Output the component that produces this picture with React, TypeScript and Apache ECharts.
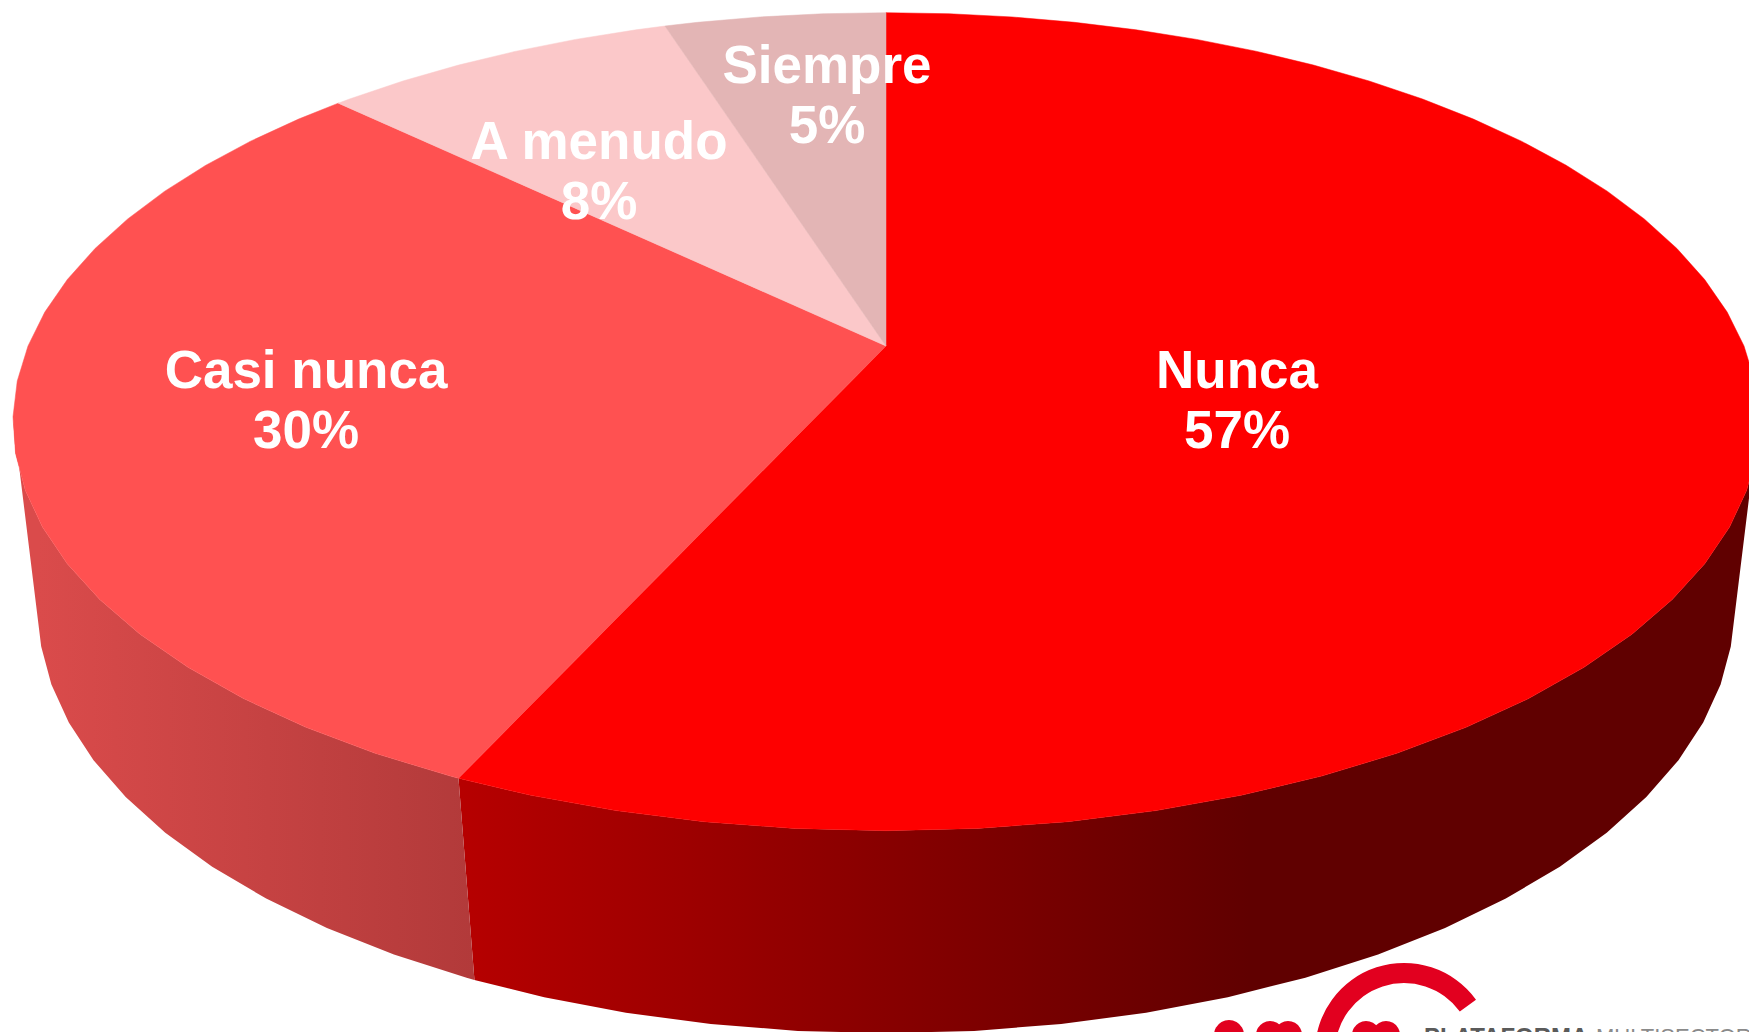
import React, { useEffect, useRef } from "react";
import * as echarts from "echarts";

// ---- data ----
const categories = ["Nunca", "Casi nunca", "A menudo", "Siempre"];
const shares = [56.8, 30.4, 7.9, 4.9];
const percentLabels = ["57%", "30%", "8%", "5%"];

// ---- colours ----
const topColors = ["#fe0000", "#ff5151", "#fbc8c9", "#e3b5b5"];
const sideStops = [
  { x0: 461, x1: 1250, c0: "#b60000", c1: "#600000" },
  { x0: 39, x1: 474, c0: "#da4b4b", c1: "#b23a3a" },
  { x0: 0, x1: 1749, c0: "#c9a0a0", c1: "#c9a0a0" },
  { x0: 0, x1: 1749, c0: "#b89090", c1: "#b89090" },
];

// ---- layout ----
const W = 1749;
const H = 1032;
const APEX = [886, 346];
const TOP_PLANE = { cy: 346, A: 858, B: 395, k: 0.185 };
const BOTTOM_PLANE = { cy: 535, A: 835, B: 411, k: 0.175 };
const FACET = 5;
const TOP_SILHOUETTE = [100, 260];
const BOTTOM_SILHOUETTE = [105, 255];
const LABEL_POS = [
  [1237, 399],
  [306, 399],
  [599, 170],
  [827, 94],
];

function project(p: { cy: number; A: number; B: number; k: number }, deg: number) {
  const t = (deg * Math.PI) / 180;
  const u = Math.sin(t);
  const v = -Math.cos(t);
  const w = 1 - p.k * v;
  return [APEX[0] + (p.A * u) / w, p.cy + (p.B * v) / w];
}

function arcAngles(a0: number, a1: number) {
  const out = [a0];
  let a = (Math.floor(a0 / FACET) + 1) * FACET;
  while (a < a1 - 1e-6) {
    out.push(a);
    a += FACET;
  }
  out.push(a1);
  return out;
}

function sliceRange(i: number) {
  const total = shares.reduce((s, x) => s + x, 0);
  const before = shares.slice(0, i).reduce((s, x) => s + x, 0);
  return [(before / total) * 360, ((before + shares[i]) / total) * 360];
}

export default function App() {
  const ref = useRef<HTMLDivElement>(null);
  useEffect(() => {
    document.body.style.margin = "0";
    document.body.style.overflow = "hidden";
    const chart = echarts.init(ref.current!, null, { renderer: "svg" });
    const seriesData = categories.map((name, i) => ({ name, value: [i, shares[i]] }));
    const red = "#e2001f";
    const lobes = [
      [1229, 1035, 15],
      [1270, 1035, 14],
      [1288, 1035, 14],
      [1366, 1035, 14],
      [1386, 1035, 14],
    ];
    chart.setOption({
      animation: false,
      backgroundColor: "#ffffff",
      tooltip: { show: false },
      series: [
        {
          type: "custom",
          coordinateSystem: "none",
          silent: true,
          z: 1,
          data: seriesData,
          renderItem: (_p: any, api: any) => {
            const i = api.value(0);
            const [a0, a1] = sliceRange(i);
            if (a0 >= TOP_SILHOUETTE[1] || a1 <= TOP_SILHOUETTE[0]) return null;
            const topArc = arcAngles(Math.max(a0, TOP_SILHOUETTE[0]), Math.min(a1, TOP_SILHOUETTE[1]));
            const botArc = arcAngles(Math.max(a0, BOTTOM_SILHOUETTE[0]), Math.min(a1, BOTTOM_SILHOUETTE[1]));
            const pts = [
              ...topArc.map((a) => project(TOP_PLANE, a)),
              ...botArc.slice().reverse().map((a) => project(BOTTOM_PLANE, a)),
            ];
            const s = sideStops[i];
            return {
              type: "polygon",
              shape: { points: pts },
              style: {
                fill: new echarts.graphic.LinearGradient(
                  s.x0, 0, s.x1, 0,
                  [{ offset: 0, color: s.c0 }, { offset: 1, color: s.c1 }],
                  true
                ),
              },
            };
          },
        },
        {
          type: "custom",
          coordinateSystem: "none",
          silent: true,
          z: 2,
          data: seriesData,
          renderItem: (_p: any, api: any) => {
            const i = api.value(0);
            const [a0, a1] = sliceRange(i);
            const pts = [APEX, ...arcAngles(a0, a1).map((a) => project(TOP_PLANE, a))];
            return {
              type: "polygon",
              shape: { points: pts },
              style: { fill: topColors[i], stroke: topColors[i], lineWidth: 0.5 },
            };
          },
        },
        {
          type: "custom",
          coordinateSystem: "none",
          silent: true,
          z: 3,
          data: seriesData,
          renderItem: (_p: any, api: any) => {
            const i = api.value(0);
            return {
              type: "text",
              x: LABEL_POS[i][0],
              y: LABEL_POS[i][1],
              style: {
                text: `${categories[i]}\n${percentLabels[i]}`,
                fill: "#ffffff",
                fontSize: 53,
                fontWeight: "bold",
                fontFamily: "Liberation Sans",
                lineHeight: 60,
                align: "center",
                verticalAlign: "middle",
              },
            };
          },
        },
      ],
      graphic: [
        {
          type: "sector",
          z: 10,
          silent: true,
          shape: {
            cx: 1404,
            cy: 1052,
            r0: 69,
            r: 89,
            startAngle: Math.PI,
            endAngle: 2 * Math.PI - (36 * Math.PI) / 180,
            clockwise: true,
          },
          style: { fill: red },
        },
        ...lobes.map(([cx, cy, r]) => ({
          type: "circle",
          z: 10,
          silent: true,
          shape: { cx, cy, r },
          style: { fill: red },
        })),
        {
          type: "text",
          z: 10,
          silent: true,
          x: 1424,
          y: 1024,
          style: {
            text: "PLATAFORMA",
            fill: "#5a5a5a",
            fontSize: 24,
            fontWeight: "bold",
            fontFamily: "Liberation Sans",
            align: "left",
            verticalAlign: "top",
          },
        },
        {
          type: "text",
          z: 10,
          silent: true,
          x: 1596,
          y: 1025,
          style: {
            text: "MULTISECTOR",
            fill: "#8a8a8a",
            fontSize: 22,
            fontFamily: "Liberation Sans",
            align: "left",
            verticalAlign: "top",
          },
        },
      ],
    });
    return () => chart.dispose();
  }, []);
  return <div ref={ref} style={{ position: "absolute", left: 0, top: 0, width: W, height: H }} />;
}
